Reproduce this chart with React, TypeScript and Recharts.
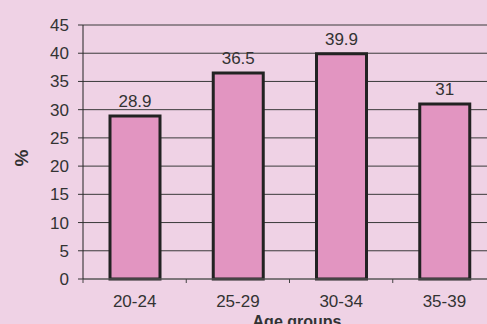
import React from 'react';
import { BarChart, Bar, XAxis, YAxis, CartesianGrid, LabelList } from 'recharts';

const ageGroups = ['20-24', '25-29', '30-34', '35-39'];
const percentages = [28.9, 36.5, 39.9, 31];
const yTicks = [0, 5, 10, 15, 20, 25, 30, 35, 40, 45];
const xTitle = 'Age groups';
const yTitle = '%';

const data = ageGroups.map((g, i) => ({ group: g, value: percentages[i] }));

const FONT = '"Liberation Sans", Arial, sans-serif';
const TEXT = '#333333';
const BG = '#efd2e5';

function XTick(props: any) {
  const { x, y, payload } = props;
  const half = typeof payload?.offset === 'number' ? payload.offset : 51.6;
  return (
    <g>
      <line x1={x - half} x2={x - half} y1={y - 16} y2={y - 12} stroke="#444" strokeWidth={1} />
      <text x={x} y={y} dy="0.71em" textAnchor="middle" fill={TEXT} fontSize={17} fontFamily={FONT}>
        {payload.value}
      </text>
    </g>
  );
}

export default function App() {
  return (
    <div
      style={{
        position: 'absolute',
        left: 0,
        top: 0,
        width: 487,
        height: 324,
        overflow: 'hidden',
        background: BG,
      }}
    >
      <BarChart
        width={500}
        height={324}
        data={data}
        margin={{ top: 25, right: 4, bottom: 0, left: 0 }}
        barSize={50}
      >
        <CartesianGrid vertical={false} stroke="#3a3a3a" strokeWidth={1} />
        <XAxis
          dataKey="group"
          height={45}
          tickLine={false}
          tickSize={4}
          tickMargin={12}
          axisLine={{ stroke: '#666', strokeWidth: 1 }}
          tick={<XTick />}
          interval={0}
          label={() => (
            <text x={297} y={327} textAnchor="middle" fill={TEXT} fontSize={16} fontWeight="bold" fontFamily={FONT}>
              {xTitle}
            </text>
          )}
        />
        <YAxis
          width={83}
          domain={[0, 45]}
          ticks={yTicks}
          interval={0}
          tickSize={5}
          tickMargin={9}
          axisLine={{ stroke: '#222', strokeWidth: 1 }}
          tickLine={{ stroke: '#333', strokeWidth: 1 }}
          tick={{ fill: TEXT, fontSize: 17, fontFamily: FONT }}
          label={() => (
            <text
              x={21}
              y={158}
              transform="rotate(-90 21 158)"
              textAnchor="middle"
              dominantBaseline="central"
              fill={TEXT}
              fontSize={19}
              fontWeight="bold"
              fontFamily={FONT}
            >
              {yTitle}
            </text>
          )}
        />
        <Bar dataKey="value" fill="#e295c1" stroke="#222" strokeWidth={3} isAnimationActive={false}>
          <LabelList
            dataKey="value"
            position="top"
            offset={9}
            fill={TEXT}
            fontSize={17}
            fontFamily={FONT}
          />
        </Bar>
      </BarChart>
    </div>
  );
}
